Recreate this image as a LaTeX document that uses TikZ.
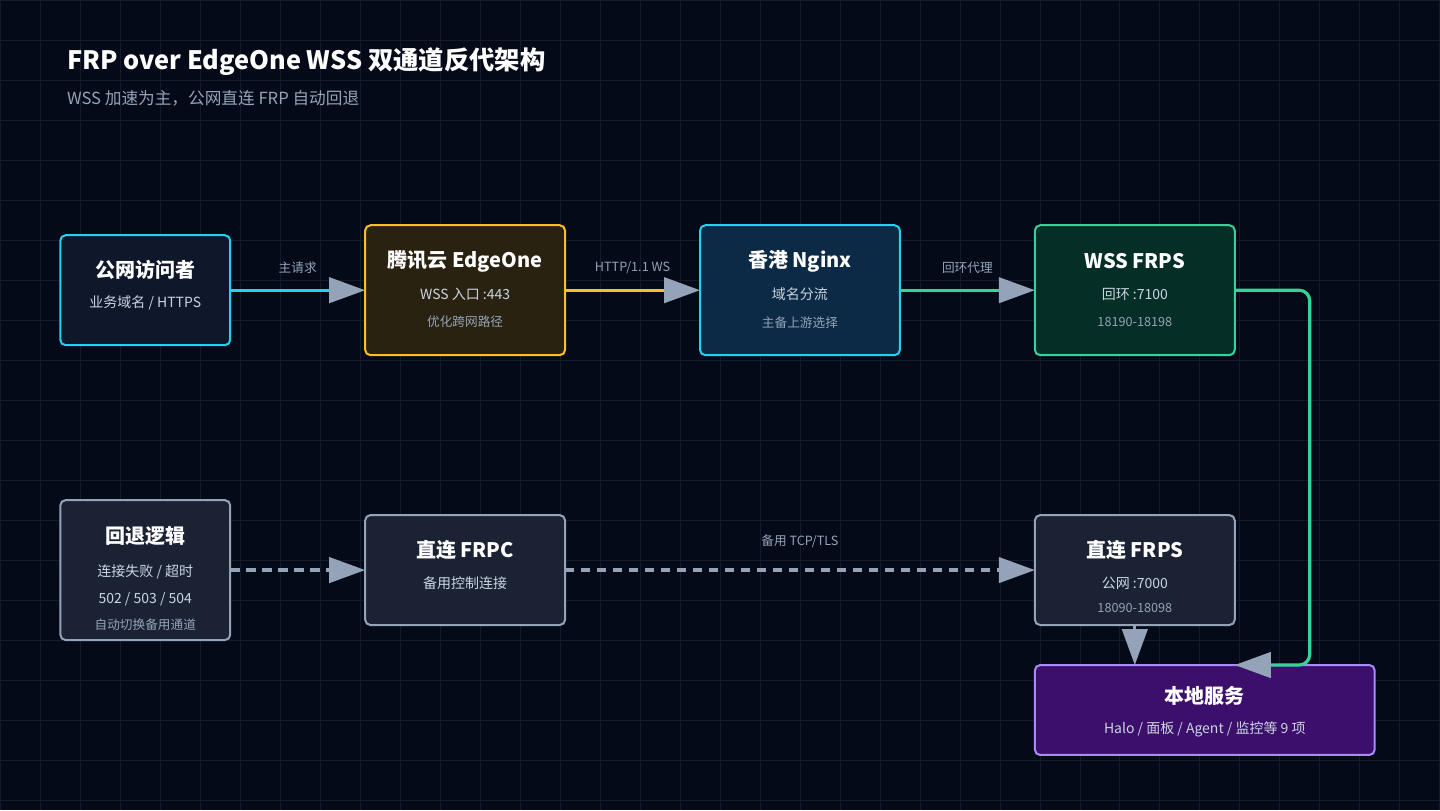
\documentclass[tikz,border=0pt]{standalone}
\usepackage{fontspec}
\setmainfont{Noto Sans CJK SC}
\usetikzlibrary{arrows.meta}
\definecolor{bg}{HTML}{050A18}
\definecolor{gridc}{HTML}{141B2C}
\definecolor{tipc}{HTML}{94A3B8}
\definecolor{cyanc}{HTML}{22D3EE}
\definecolor{ambc}{HTML}{FBBF24}
\definecolor{grnc}{HTML}{34D399}
\definecolor{vioc}{HTML}{A78BFA}
\definecolor{subc}{HTML}{CBD5E1}
\definecolor{dimc}{HTML}{94A3B8}
\definecolor{fvis}{HTML}{0F172A}
\definecolor{fedge}{HTML}{2A2210}
\definecolor{fngx}{HTML}{0C2A45}
\definecolor{fwss}{HTML}{052E26}
\definecolor{fgray}{HTML}{1A2233}
\definecolor{floc}{HTML}{3B0F6B}
\begin{document}
\begin{tikzpicture}[x=0.75pt,y=-0.75pt,
  box/.style={draw,line width=1.5pt,rounded corners=4pt},
  ttl/.style={font=\fontsize{15}{18}\selectfont\bfseries,text=white},
  sub/.style={font=\fontsize{10.5}{12}\selectfont,text=subc},
  dim/.style={font=\fontsize{9.5}{11}\selectfont,text=dimc},
  lbl/.style={font=\fontsize{9.5}{11}\selectfont,text=dimc},
  flow/.style={line width=2.4pt,-{Triangle[length=27pt,width=19pt,color=tipc]}},
  back/.style={flow,tipc,dash pattern=on 7pt off 5pt}]
  \fill[bg] (0,0) rectangle (1440,810);
  \foreach \i in {0,40,...,1440} \draw[gridc,line width=0.5pt] (\i,0) -- (\i,810);
  \foreach \j in {0,40,...,800} \draw[gridc,line width=0.5pt] (0,\j) -- (1440,\j);

  % title
  \node[anchor=west,text=white,font=\fontsize{19}{22}\selectfont\bfseries] (title) at (62,61) {FRP over EdgeOne WSS 双通道反代架构};
  \node[anchor=west,text=dimc,font=\fontsize{12.5}{15}\selectfont] (subtitle) at (62,98) {WSS 加速为主，公网直连 FRP 自动回退};

  % main path
  \draw[box,cyanc,fill=fvis] (60,235) rectangle (230,345);
  \node[ttl] (visitor) at (145,270) {公网访问者};
  \node[sub] at (145,303) {业务域名 / HTTPS};
  \coordinate (visR) at (230,290);

  \draw[box,ambc,fill=fedge] (365,225) rectangle (565,355);
  \node[ttl] (edge) at (465,261) {腾讯云 EdgeOne};
  \node[sub] at (465,294) {WSS 入口 :443};
  \node[dim] at (465,322) {优化跨网路径};
  \coordinate (edgeL) at (365,290); \coordinate (edgeR) at (565,290);

  \draw[box,cyanc,fill=fngx] (700,225) rectangle (900,355);
  \node[ttl] (nginx) at (800,261) {香港 Nginx};
  \node[sub] at (800,294) {域名分流};
  \node[dim] at (800,322) {主备上游选择};
  \coordinate (nginxL) at (700,290); \coordinate (nginxR) at (900,290);

  \draw[box,grnc,fill=fwss] (1035,225) rectangle (1235,355);
  \node[ttl] (wss) at (1135,261) {WSS FRPS};
  \node[sub] at (1135,294) {回环 :7100};
  \node[dim] at (1135,322) {18190-18198};
  \coordinate (wssL) at (1035,290); \coordinate (wssR) at (1235,290);

  % fallback path
  \draw[box,tipc,fill=fgray] (60,500) rectangle (230,640);
  \node[ttl] (logic) at (145,536) {回退逻辑};
  \node[sub] at (145,572) {连接失败 / 超时};
  \node[sub] at (145,599) {502 / 503 / 504};
  \node[dim] at (145,625) {自动切换备用通道};
  \coordinate (logicR) at (230,570);

  \draw[box,tipc,fill=fgray] (365,515) rectangle (565,625);
  \node[ttl] (frpc) at (465,550) {直连 FRPC};
  \node[sub] at (465,583) {备用控制连接};
  \coordinate (frpcL) at (365,570); \coordinate (frpcR) at (565,570);

  \draw[box,tipc,fill=fgray] (1035,515) rectangle (1235,625);
  \node[ttl] (frps) at (1135,550) {直连 FRPS};
  \node[sub] at (1135,583) {公网 :7000};
  \node[dim] at (1135,608) {18090-18098};
  \coordinate (frpsL) at (1035,570); \coordinate (frpsB) at (1135,625);

  \draw[box,vioc,fill=floc] (1035,665) rectangle (1375,755);
  \node[ttl] (local) at (1205,696) {本地服务};
  \node[sub] at (1205,729) {Halo / 面板 / Agent / 监控等 9 项};
  \coordinate (localT) at (1135,665); \coordinate (localR) at (1235,665);

  % connectors
  \draw[flow,cyanc] (visR) -- node[lbl,above=8pt] {主请求} (edgeL);
  \draw[flow,ambc] (edgeR) -- node[lbl,above=8pt] {HTTP/1.1 WS} (nginxL);
  \draw[flow,grnc] (nginxR) -- node[lbl,above=8pt] {回环代理} (wssL);
  \draw[flow,grnc,rounded corners=8pt] (wssR) -| (1310,665) -- (localR);
  \draw[back] (logicR) -- (frpcL);
  \draw[back] (frpcR) -- node[lbl,above=12pt] {备用 TCP/TLS} (frpsL);
  \draw[flow,tipc] (frpsB) -- (localT);
\end{tikzpicture}
\end{document}
